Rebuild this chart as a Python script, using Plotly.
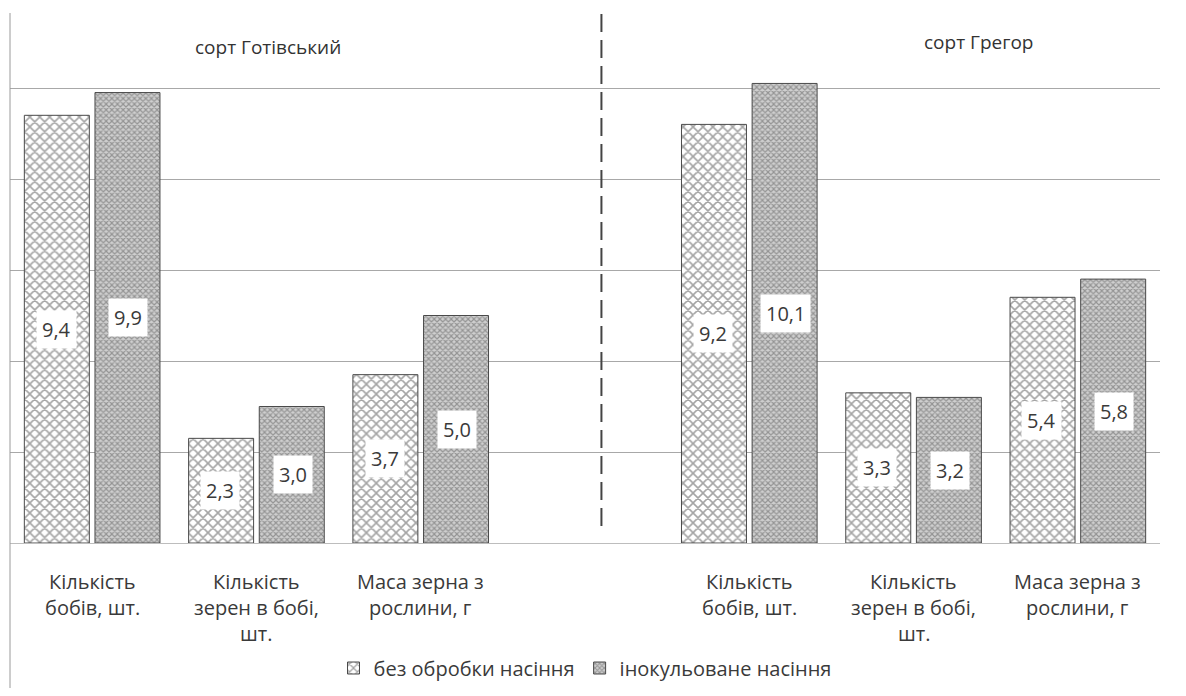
import plotly.graph_objects as go

categories = ["Кількість<br>бобів, шт.", "Кількість<br>зерен в бобі,<br>шт.", "Маса зерна з<br>рослини, г",
              "", "Кількість<br>бобів, шт.", "Кількість<br>зерен в бобі,<br>шт.", "Маса зерна з<br>рослини, г"]
no_treatment = [9.4, 2.3, 3.7, None, 9.2, 3.3, 5.4]
inoculated = [9.9, 3.0, 5.0, None, 10.1, 3.2, 5.8]
series_names = ["без обробки насіння", "інокульоване насіння"]
variety_titles = ["сорт Готівський", "сорт Грегор"]

xpos = list(range(len(categories)))
FONT = "Open Sans"
TXT = "#3a3a3a"

# figure is placed with the page's 8px body margin in mind
W, H = 1170, 680
L, R, T, B = 2, 18, 0, 145
PH = H - T - B  # plot height in px

fig = go.Figure()
fig.add_trace(go.Bar(
    x=xpos, y=no_treatment, name=series_names[0],
    marker=dict(color="white", line=dict(color="#4a4a4a", width=1),
                pattern=dict(shape="x", fgcolor="#4a4a4a", bgcolor="white", size=7, solidity=0.4)),
))
fig.add_trace(go.Bar(
    x=xpos, y=inoculated, name=series_names[1],
    marker=dict(color="white", line=dict(color="#4a4a4a", width=1),
                pattern=dict(shape="x", fgcolor="#5a5a5a", bgcolor="#cfcfcf", size=4, solidity=0.5)),
))

annotations = []
for i, (a, b) in enumerate(zip(no_treatment, inoculated)):
    for val, off in ((a, -0.22), (b, 0.22)):
        if val is None:
            continue
        annotations.append(dict(
            x=i + off, y=val / 2, xref="x", yref="y",
            text=f"{val:.1f}".replace(".", ","), showarrow=False,
            bgcolor="white", borderpad=5,
            font=dict(family=FONT, size=20, color=TXT),
        ))

# category labels below the axis, one annotation per line for Excel-like spacing
for i, cat in enumerate(categories):
    if not cat:
        continue
    for k, line in enumerate(cat.split("<br>")):
        annotations.append(dict(
            x=i, y=0, xref="x", yref="paper", xanchor="center", yanchor="middle",
            yshift=-(38 + 26 * k), text=line, showarrow=False,
            font=dict(family=FONT, size=20, color=TXT),
        ))

annotations.append(dict(x=0.224, y=(PH - 39) / PH, xref="paper", yref="paper",
                        xanchor="center", yanchor="middle",
                        text=variety_titles[0], showarrow=False,
                        font=dict(family=FONT, size=19, color="#333")))
annotations.append(dict(x=0.842, y=(PH - 34) / PH, xref="paper", yref="paper",
                        xanchor="center", yanchor="middle",
                        text=variety_titles[1], showarrow=False,
                        font=dict(family=FONT, size=19, color="#333")))

shapes = [
    dict(type="line", xref="x", yref="paper", x0=3.1, x1=3.1,
         y0=(PH - 518) / PH, y1=(PH - 5) / PH,
         line=dict(color="#444", width=2, dash="18px,8px")),
    dict(type="line", xref="paper", yref="paper", x0=0, x1=0,
         y0=(PH - H) / PH, y1=(PH - 5) / PH,
         line=dict(color="#9a9a9a", width=1)),
]

fig.update_layout(
    width=W, height=H,
    margin=dict(l=L, r=R, t=T, b=B, autoexpand=False),
    paper_bgcolor="white", plot_bgcolor="white",
    barmode="group", bargap=0.14, bargroupgap=0.08,
    showlegend=True,
    legend=dict(orientation="h", x=0.5, xanchor="center", y=(PH - 660) / PH, yanchor="middle",
                font=dict(family=FONT, size=20, color=TXT), itemwidth=30,
                traceorder="normal"),
    font=dict(family=FONT, color=TXT),
    annotations=annotations, shapes=shapes,
)
fig.update_xaxes(
    tickmode="array", tickvals=xpos, ticktext=[""] * len(xpos),
    range=[-0.5, 6.5], showgrid=False, zeroline=False,
    showline=True, linecolor="#bdbdbd", linewidth=1, ticks="",
)
fig.update_yaxes(
    range=[0, PH / 45.5], dtick=2, showgrid=True, gridcolor="#a8a8a8", gridwidth=1,
    showticklabels=False, zeroline=False, showline=False, ticks="",
)

fig.write_html("out.html")
